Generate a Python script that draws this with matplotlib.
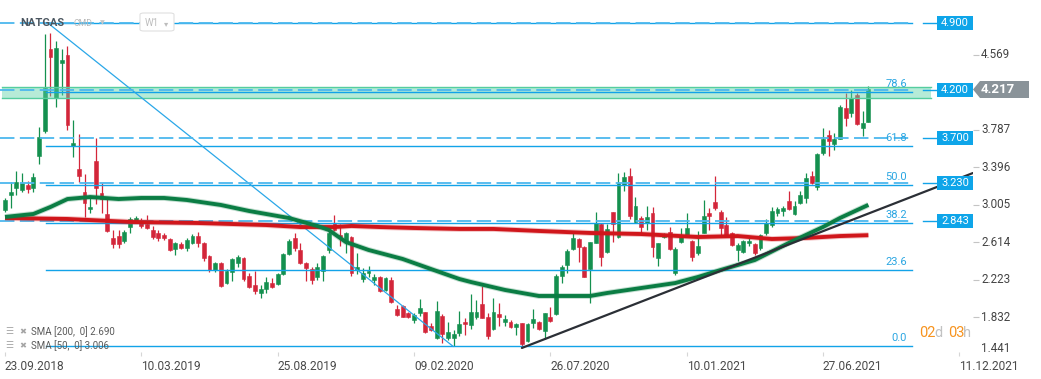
import matplotlib
matplotlib.use("Agg")
import matplotlib.pyplot as plt
from matplotlib.patches import Rectangle, Polygon, FancyBboxPatch
import numpy as np

plt.rcParams['font.family'] = ['Roboto', 'DejaVu Sans']

# ---------------- data ----------------
symbol = "NATGAS"
x_tick_weeks = [0, 24, 48, 72, 96, 120, 144, 168]
x_tick_labels = ['23.09.2018', '10.03.2019', '25.08.2019', '09.02.2020',
                 '26.07.2020', '10.01.2021', '27.06.2021', '11.12.2021']
y_tick_vals = [4.569, 3.787, 3.396, 3.005, 2.614, 2.223, 1.832, 1.441]

opens = [2.95, 3.11, 3.18, 3.16, 3.21, 3.18, 3.52, 3.78, 4.63, 4.12,
         4.49, 4.57, 3.62, 3.38, 3.14, 2.96, 3.46, 3.13, 2.91, 2.66,
         2.68, 2.63, 2.775, 2.84, 2.82, 2.81, 2.745, 2.71, 2.69, 2.65,
         2.55, 2.60, 2.56, 2.61, 2.68, 2.61, 2.47, 2.33, 2.40, 2.19,
         2.31, 2.40, 2.45, 2.26, 2.17, 2.09, 2.13, 2.19, 2.18, 2.285,
         2.49, 2.66, 2.54, 2.40, 2.34, 2.25, 2.32, 2.54, 2.82, 2.69,
         2.63, 2.67, 2.33, 2.23, 2.30, 2.22, 2.25, 2.12, 2.22, 1.92,
         1.95, 1.88, 1.81, 1.88, 1.89, 1.74, 1.62, 1.85, 1.62, 1.62,
         1.67, 1.785, 1.75, 1.84, 1.97, 1.84, 1.71, 1.87, 1.785, 1.785,
         1.73, 1.77, 1.59, 1.77, 1.785, 1.69, 1.84, 1.87, 2.26, 2.38,
         2.55, 2.65, 2.57, 2.34, 2.61, 2.81, 2.51, 2.93, 2.67, 3.21,
         3.31, 2.83, 2.87, 2.82, 2.92, 2.45, 2.67, 2.72, 2.30, 2.62,
         2.69, 2.63, 2.50, 2.71, 2.92, 3.04, 2.93, 2.80, 2.71, 2.54,
         2.515, 2.61, 2.60, 2.556, 2.71, 2.80, 2.92, 2.94, 3.05, 2.91,
         3.025, 3.08, 3.31, 3.19, 3.55, 3.735, 3.64, 3.69, 4.02, 3.96,
         4.15, 3.81, 3.87]
highs = [3.08, 3.245, 3.36, 3.34, 3.255, 3.34, 3.82, 4.79, 4.80, 4.72,
         4.63, 4.66, 3.89, 3.745, 3.33, 3.08, 3.70, 3.23, 3.09, 2.74,
         2.74, 2.74, 2.88, 2.89, 2.87, 2.90, 2.79, 2.74, 2.71, 2.66,
         2.62, 2.62, 2.66, 2.70, 2.72, 2.62, 2.48, 2.41, 2.41, 2.34,
         2.45, 2.48, 2.46, 2.30, 2.32, 2.17, 2.25, 2.245, 2.30, 2.505,
         2.65, 2.71, 2.61, 2.41, 2.36, 2.40, 2.48, 2.74, 2.90, 2.81,
         2.72, 2.68, 2.50, 2.35, 2.37, 2.29, 2.26, 2.25, 2.25, 1.96,
         1.96, 1.89, 1.88, 2.02, 1.89, 1.77, 2.00, 1.87, 1.785, 1.70,
         1.90, 1.83, 2.08, 2.01, 2.16, 1.88, 2.04, 1.98, 1.86, 1.81,
         1.77, 1.775, 1.77, 1.92, 1.795, 1.88, 1.94, 2.285, 2.38, 2.55,
         2.73, 2.66, 2.58, 2.62, 2.93, 2.82, 2.81, 2.93, 3.34, 3.35,
         3.39, 3.09, 2.89, 2.99, 2.98, 2.61, 2.71, 2.775, 2.57, 2.765,
         2.92, 2.64, 2.73, 3.06, 2.97, 3.31, 2.95, 2.88, 2.72, 2.61,
         2.64, 2.67, 2.61, 2.70, 2.86, 2.98, 2.98, 2.99, 3.15, 3.05,
         3.15, 3.34, 3.36, 3.55, 3.81, 3.79, 3.76, 4.05, 4.17, 4.20,
         4.17, 3.985, 4.25]
lows = [2.93, 2.97, 3.11, 3.14, 3.13, 3.14, 3.43, 3.76, 4.14, 4.03,
        4.15, 3.79, 3.505, 3.245, 2.88, 2.92, 3.015, 2.92, 2.72, 2.56,
        2.56, 2.61, 2.71, 2.82, 2.765, 2.755, 2.65, 2.63, 2.64, 2.525,
        2.48, 2.55, 2.525, 2.60, 2.57, 2.42, 2.31, 2.31, 2.15, 2.18,
        2.21, 2.36, 2.21, 2.14, 2.08, 2.035, 2.09, 2.14, 2.17, 2.275,
        2.48, 2.525, 2.39, 2.21, 2.18, 2.22, 2.21, 2.50, 2.73, 2.58,
        2.50, 2.26, 2.29, 2.20, 2.25, 2.17, 2.10, 2.11, 1.98, 1.85,
        1.835, 1.83, 1.77, 1.85, 1.67, 1.69, 1.61, 1.57, 1.60, 1.53,
        1.64, 1.65, 1.71, 1.82, 1.825, 1.61, 1.70, 1.74, 1.74, 1.72,
        1.65, 1.52, 1.58, 1.72, 1.70, 1.61, 1.785, 1.86, 2.19, 2.30,
        2.54, 2.41, 2.25, 1.98, 2.61, 2.37, 2.50, 2.62, 2.66, 3.15,
        2.86, 2.82, 2.69, 2.74, 2.46, 2.37, 2.66, 2.54, 2.275, 2.61,
        2.68, 2.42, 2.48, 2.71, 2.74, 2.95, 2.69, 2.68, 2.58, 2.42,
        2.505, 2.58, 2.48, 2.536, 2.69, 2.775, 2.89, 2.89, 2.95, 2.90,
        3.015, 3.03, 3.22, 3.16, 3.53, 3.52, 3.58, 3.69, 3.83, 3.92,
        3.84, 3.72, 3.87]
closes = [3.06, 3.14, 3.245, 3.23, 3.17, 3.30, 3.71, 4.22, 4.55, 4.64,
          4.52, 3.84, 3.65, 3.31, 3.03, 2.98, 3.18, 3.07, 2.73, 2.60,
          2.60, 2.72, 2.86, 2.87, 2.79, 2.765, 2.67, 2.66, 2.66, 2.54,
          2.61, 2.56, 2.64, 2.68, 2.61, 2.45, 2.33, 2.40, 2.16, 2.32,
          2.44, 2.46, 2.23, 2.15, 2.11, 2.13, 2.20, 2.15, 2.285, 2.49,
          2.63, 2.56, 2.40, 2.35, 2.22, 2.36, 2.47, 2.71, 2.74, 2.67,
          2.71, 2.30, 2.36, 2.30, 2.32, 2.25, 2.11, 2.24, 1.99, 1.86,
          1.84, 1.84, 1.86, 1.93, 1.68, 1.70, 1.90, 1.66, 1.68, 1.66,
          1.76, 1.76, 1.89, 1.89, 1.83, 1.64, 1.89, 1.84, 1.82, 1.73,
          1.76, 1.555, 1.76, 1.82, 1.71, 1.88, 1.795, 2.26, 2.36, 2.525,
          2.66, 2.57, 2.25, 2.62, 2.82, 2.46, 2.755, 2.81, 3.23, 3.30,
          2.89, 2.99, 2.775, 2.88, 2.57, 2.61, 2.69, 2.55, 2.55, 2.68,
          2.765, 2.46, 2.58, 2.89, 2.89, 2.97, 2.765, 2.69, 2.59, 2.59,
          2.63, 2.63, 2.505, 2.69, 2.82, 2.94, 2.96, 2.97, 2.96, 2.99,
          3.11, 3.29, 3.23, 3.54, 3.69, 3.67, 3.69, 4.03, 3.91, 4.12,
          3.85, 3.86, 4.217]

sma50_weeks = [0, 5, 8, 11, 15, 20, 24, 28, 32, 38, 43, 50, 55, 57, 60, 64, 70,
               75, 80, 82, 88, 94, 103, 106, 112, 118, 122, 126, 132, 138, 141,
               144, 147, 152]
sma50_vals = [2.880, 2.911, 2.984, 3.067, 3.088, 3.067, 3.078, 3.078, 3.057,
              3.005, 2.942, 2.869, 2.786, 2.744, 2.619, 2.536, 2.442, 2.337,
              2.233, 2.202, 2.119, 2.056, 2.056, 2.087, 2.139, 2.191, 2.254,
              2.327, 2.431, 2.609, 2.692, 2.775, 2.869, 3.006]
sma200_weeks = [0, 11, 22, 34, 46, 52, 58, 61, 66, 72, 80, 86, 94, 103, 112,
                122, 129, 135, 141, 147, 152]
sma200_vals = [2.869, 2.859, 2.828, 2.817, 2.796, 2.775, 2.775, 2.786, 2.775,
               2.765, 2.755, 2.755, 2.734, 2.713, 2.702, 2.671, 2.681, 2.650,
               2.661, 2.681, 2.690]

fib_anchor_weeks = [7.5, 78.9]
fib_anchor_vals = [4.905, 1.53]
fib_pcts = [0.0, 23.6, 38.2, 50.0, 61.8, 78.6, 100.0]
fib_labels = ['0.0', '23.6', '38.2', '50.0', '61.8', '78.6', '']

level_vals = [4.900, 4.200, 3.700, 3.230, 2.843]
level_labels = ['4.900', '4.200', '3.700', '3.230', '2.843']
zone_low, zone_high = 4.118, 4.239

trend_weeks = [91.0, 170.4]
trend_vals = [1.514, 3.338]

last_price = '4.217'
legend_lines = ['SMA [200,  0] 2.690', 'SMA [50,  0] 3.006']

# ---------------- figure ----------------
W, H = 1041, 379
fig = plt.figure(figsize=(W / 100, H / 100), dpi=100)
fig.patch.set_facecolor('white')
AX_R, AX_B = 973, 352
ax = fig.add_axes([0, 1 - AX_B / H, AX_R / W, AX_B / H])
XL = (-0.88, 170.42)
YL = (1.4718, 5.1425)
ax.set_xlim(*XL)
ax.set_ylim(*YL)
for s in ax.spines.values():
    s.set_visible(False)

def wx(px):  # pixel x -> week coordinate
    return XL[0] + px / AX_R * (XL[1] - XL[0])

def py(px):  # pixel height -> value units
    return px / AX_B * (YL[1] - YL[0])

GREEN = '#14904f'
RED = '#d3263a'
BLUE = '#12a3e8'
DASHBLUE = '#4cb8ee'

# candles
wk = np.arange(len(opens))
o = np.array(opens); c = np.array(closes)
hi = np.array(highs); lo = np.array(lows)
up = c >= o
cols = np.where(up, GREEN, RED)
ax.vlines(wk, lo, hi, colors=cols, lw=0.9, zorder=3)
bottom = np.minimum(o, c)
height = np.maximum(np.abs(c - o), 0.012)
ax.bar(wk, height, bottom=bottom, width=0.68, color=cols, edgecolor=cols,
       lw=0.4, zorder=4)

# zone
ax.add_patch(Rectangle((wx(2), zone_low), wx(931) - wx(2), zone_high - zone_low,
                       facecolor='#5fd3a8', alpha=0.45, edgecolor='none', zorder=5))
for v in (zone_low, zone_high):
    ax.plot([wx(2), wx(931)], [v, v], color='#55cd9f', lw=1.0, zorder=5)

# fibonacci
fhi, flo = fib_anchor_vals[0], fib_anchor_vals[1]
for p, lab in zip(fib_pcts, fib_labels):
    lvl = flo + p / 100 * (fhi - flo)
    ax.plot([wx(46), wx(912)], [lvl, lvl], color=BLUE, lw=1.0, zorder=6)
    if lab:
        ax.text(wx(907), lvl + py(3), lab, ha='right', va='bottom', color='#2aa6e2',
                fontsize=8, zorder=7)
ax.plot(fib_anchor_weeks, fib_anchor_vals, color='#2aa7e8', lw=0.9, zorder=6)

# moving averages
ax.plot(sma200_weeks, sma200_vals, color='#d0161b', lw=4.2, alpha=0.25, zorder=7,
        solid_capstyle='butt')
ax.plot(sma200_weeks, sma200_vals, color='#d0161b', lw=2.8, zorder=7,
        solid_capstyle='butt')
ax.plot(sma50_weeks, sma50_vals, color='#0b7d44', lw=4.2, alpha=0.25, zorder=7,
        solid_capstyle='butt')
ax.plot(sma50_weeks, sma50_vals, color='#0b7d44', lw=2.8, zorder=7,
        solid_capstyle='butt')

# trend line
ax.plot(trend_weeks, trend_vals, color='#2b2f36', lw=1.6, zorder=8,
        solid_capstyle='round')

# dashed levels with labels
for v, lab in zip(level_vals, level_labels):
    ax.plot([wx(0), wx(912)], [v, v], color=DASHBLUE, lw=1.3,
            linestyle=(0, (8, 3)), zorder=6)
    ax.plot([wx(923), wx(937)], [v, v], color=BLUE, lw=1.0, zorder=6)
    ax.add_patch(Rectangle((wx(937), v - py(7)), wx(973) - wx(937), py(14),
                           facecolor='#0ea5e9', edgecolor='none', zorder=10,
                           clip_on=False))
    ax.text((wx(937) + wx(973)) / 2, v, lab, ha='center', va='center',
            color='white', fontsize=8, zorder=11)

# axes ticks
ax.set_xticks(x_tick_weeks)
ax.set_xticklabels(x_tick_labels, ha='left', fontsize=8.6, color='#4a4a4a')
ax.tick_params(axis='x', length=3, color='#d6d6d6', pad=3)
ax.set_yticks([v for v in y_tick_vals if v >= YL[0]])
ax.tick_params(axis='y', left=False, right=True, labelleft=False,
               labelright=False, length=4, color='#c4c4c4', width=0.8)
ytr = ax.get_yaxis_transform()
for v in y_tick_vals:
    off = 0 if v >= YL[0] else 5
    ax.annotate(f'{v:.3f}', xy=(1, v), xycoords=ytr, xytext=(5.8, off),
                textcoords='offset points', ha='left', va='center',
                fontsize=8.4, color='#444444', annotation_clip=False)

# last price tag
def fx(x): return x / W
def fy(y): return 1 - y / H
tag = Polygon([(fx(973), fy(89.5)), (fx(980), fy(81)), (fx(1029), fy(81)),
               (fx(1029), fy(98)), (fx(980), fy(98))], closed=True,
              transform=fig.transFigure, facecolor='#8a9399', edgecolor='none')
fig.add_artist(tag)
fig.text(fx(981), fy(89.5), last_price, ha='left', va='center', color='white',
         fontsize=9.5, fontweight='bold')

# header
fig.text(fx(20), fy(23.5), symbol, ha='left', va='center', color='#4b5660',
         fontsize=8, fontweight='bold')
fig.text(fx(74), fy(24), 'CMD', ha='left', va='center', color='#b8b8b8',
         fontsize=6.2)
fig.text(fx(100), fy(23), '\u25BC', ha='left', va='center', color='#c8c8c8',
         fontsize=4.5, family=['DejaVu Sans'])
box = FancyBboxPatch((fx(140), fy(31)), fx(34), 18 / H,
                     boxstyle='round,pad=0,rounding_size=0.004',
                     transform=fig.transFigure, facecolor='white',
                     edgecolor='#e0e0e0', lw=0.8)
fig.add_artist(box)
fig.text(fx(144.5), fy(23.5), 'W1', ha='left', va='center', color='#bdbdbd',
         fontsize=7)
fig.text(fx(164), fy(23.5), '\u25BE', ha='left', va='center', color='#bdbdbd',
         fontsize=6, family=['DejaVu Sans'])

# legend
for i, t in enumerate(legend_lines):
    yy = 332 + 14 * i
    fig.text(fx(5), fy(yy), '\u2630', ha='left', va='center', color='#a5a5a5',
             fontsize=6.5, family=['DejaVu Sans'])
    fig.text(fx(19), fy(yy), '\u2716', ha='left', va='center', color='#a5a5a5',
             fontsize=6, family=['DejaVu Sans'])
    fig.text(fx(31), fy(yy), t, ha='left', va='center', color='#5a5a5a',
             fontsize=7)

# countdown
for txt, x, col in [('02', 919, '#f7931e'), ('d', 934.5, '#c2c2c2'),
                    ('03', 948, '#f7931e'), ('h', 963.5, '#c2c2c2')]:
    fig.text(fx(x), fy(333), txt, ha='left', va='center', color=col, fontsize=10.5)

fig.savefig('out.png', dpi=100, facecolor='white')
